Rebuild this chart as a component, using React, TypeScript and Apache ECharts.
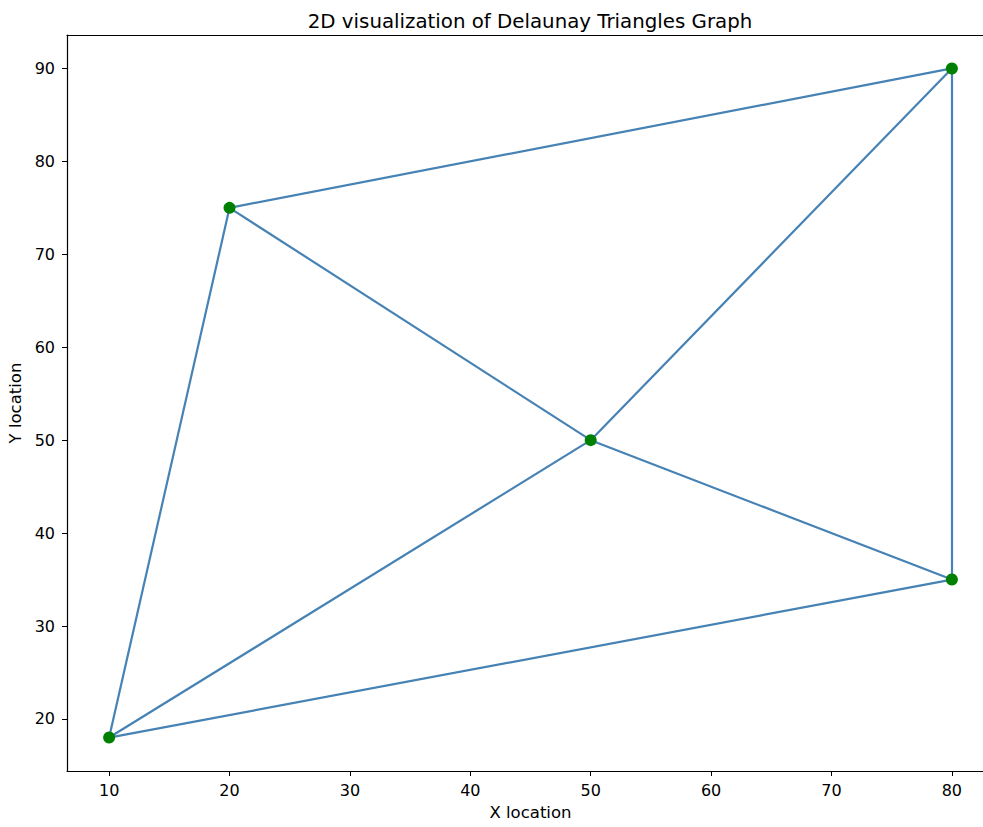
import React, { useEffect, useRef } from "react";
import * as echarts from "echarts";

const pointX = [10, 20, 50, 80, 80];
const pointY = [18, 75, 50, 90, 35];
const edgeFrom = [1, 3, 1, 1, 2, 2, 2, 0];
const edgeTo = [3, 4, 0, 2, 3, 4, 0, 4];
const xTicks = [10, 20, 30, 40, 50, 60, 70, 80];
const yTicks = [20, 30, 40, 50, 60, 70, 80, 90];

const FONT = "DejaVu Sans";

export default function App() {
  const ref = useRef<HTMLDivElement>(null);
  useEffect(() => {
    if (!ref.current) return;
    const chart = echarts.init(ref.current, undefined, { renderer: "svg" });
    const pts = pointX.map((x, i) => [x, pointY[i]]);
    const lines = edgeFrom.map((a, i) => ({ coords: [pts[a], pts[edgeTo[i]]] }));
    const spine = { show: true, lineStyle: { color: "#000", width: 1.2 } };
    const tickFont = { fontFamily: FONT, fontSize: 16, color: "#000" };
    chart.setOption({
      animation: false,
      title: {
        text: "2D visualization of Delaunay Triangles Graph",
        left: 525,
        textAlign: "center",
        top: 6,
        textStyle: { fontFamily: FONT, fontSize: 19.8, fontWeight: "normal", color: "#000" },
      },
      grid: {
        left: 67,
        top: 35,
        width: 927,
        bottom: 56,
        containLabel: false,
        outerBoundsMode: "none",
      },
      xAxis: [
        {
          type: "value",
          min: 6.5,
          max: 83.5,
          axisLine: spine,
          splitLine: { show: false },
          axisTick: { show: true, customValues: xTicks, length: 5, inside: false, lineStyle: { color: "#000" } },
          axisLabel: { customValues: xTicks, margin: 11, ...tickFont },
          name: "X location",
          nameLocation: "middle",
          nameGap: 33,
          nameTextStyle: { fontFamily: FONT, fontSize: 16.5, color: "#000" },
        },
        {
          type: "value",
          position: "top",
          min: 6.5,
          max: 83.5,
          axisLine: spine,
          splitLine: { show: false },
          axisTick: { show: false },
          axisLabel: { show: false },
        },
      ],
      yAxis: {
        type: "value",
        min: 14.4,
        max: 93.6,
        axisLine: spine,
        splitLine: { show: false },
        axisTick: { show: true, customValues: yTicks, length: 5, inside: false, lineStyle: { color: "#000" } },
        axisLabel: { customValues: yTicks, margin: 12, ...tickFont },
        name: "Y location",
        nameLocation: "middle",
        nameGap: 42,
        nameTextStyle: { fontFamily: FONT, fontSize: 16.5, color: "#000" },
      },
      series: [
        {
          type: "lines",
          coordinateSystem: "cartesian2d",
          xAxisIndex: 0,
          data: lines,
          lineStyle: { color: "#4682B4", width: 2.2, opacity: 1 },
          symbol: "none",
          z: 2,
        },
        {
          type: "scatter",
          xAxisIndex: 0,
          data: pts,
          symbol: "circle",
          symbolSize: 12,
          itemStyle: { color: "#008000", opacity: 1 },
          z: 3,
        },
      ],
    });
    return () => chart.dispose();
  }, []);
  return (
    <div
      ref={ref}
      style={{ position: "fixed", left: 0, top: 0, width: 983, height: 827, background: "#fff" }}
    />
  );
}
